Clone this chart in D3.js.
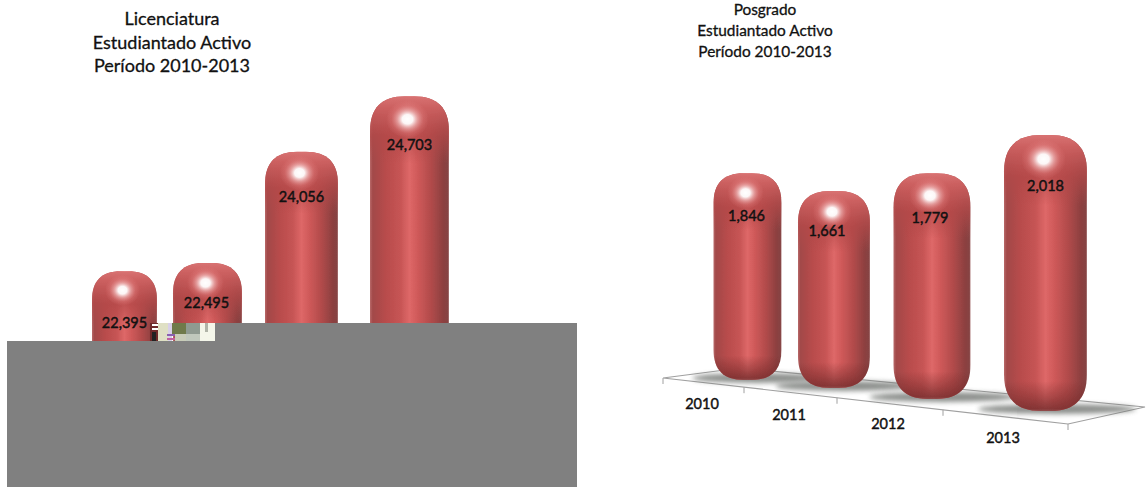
<!DOCTYPE html>
<html><head><meta charset="utf-8">
<script src="https://d3js.org/d3.v7.min.js"></script>
<style>html,body{margin:0;padding:0;background:#fff}svg{display:block}text{font-family:Lato,"Open Sans",sans-serif;fill:#111}</style>
</head><body><svg id="c" width="1146" height="487"></svg>
<script>
const years = ["2010","2011","2012","2013"];
const undergradValues = [22395,22495,24056,24703];
const postgradValues = [1846,1661,1779,2018];
const valueLabelFormat = d3.format(",");
const undergradTitle = ["Licenciatura","Estudiantado Activo","Período 2010-2013"];
const postgradTitle = ["Posgrado","Estudiantado Activo","Período 2010-2013"];

const svg = d3.select("#c");
const defs = svg.append("defs");

const hGrad = defs.append("linearGradient").attr("id","body");
[[0,"#b86a6a"],[.035,"#a24848"],[.2,"#b84c4c"],[.38,"#c65454"],[.5,"#de6868"],[.6,"#d05a5a"],[.78,"#b04a4a"],[.93,"#8c4040"],[.985,"#864444"],[1,"#b08080"]]
  .forEach(([o,c])=>hGrad.append("stop").attr("offset",o).attr("stop-color",c));
const capGrad = defs.append("linearGradient").attr("id","cap").attr("x1",0).attr("x2",0).attr("y1",0).attr("y2",1);
[[0,"#d87272",1],[.18,"#cc6060",.95],[.6,"#b24848",.7],[1,"#b04848",0]]
  .forEach(([o,c,a])=>capGrad.append("stop").attr("offset",o).attr("stop-color",c).attr("stop-opacity",a));
const footGrad = defs.append("linearGradient").attr("id","foot").attr("x1",0).attr("x2",0).attr("y1",0).attr("y2",1);
[[0,"#742a2a",0],[.55,"#742a2a",.45],[.92,"#7a3030",.85],[1,"#8a4a4a",.9]]
  .forEach(([o,c,a])=>footGrad.append("stop").attr("offset",o).attr("stop-color",c).attr("stop-opacity",a));
const glow = defs.append("radialGradient").attr("id","glow");
[[0,"#fff",1],[.25,"#fff",.95],[.48,"#f8c8c8",.6],[.75,"#ee9090",.25],[1,"#e88",0]]
  .forEach(([o,c,a])=>glow.append("stop").attr("offset",o).attr("stop-color",c).attr("stop-opacity",a));
defs.append("filter").attr("id","blur").attr("x","-30%").attr("width","160%").attr("y","-100%").attr("height","300%")
  .append("feGaussianBlur").attr("stdDeviation",2.5);
defs.append("filter").attr("id","soft").append("feGaussianBlur").attr("stdDeviation",.6);

// rounded "pill" outline with flattened shoulders, built from the bar's box
function pill(x0,y0,w,h,rx,ry){
  const k=.66, x1=x0+w, y1=y0+h;
  return `M${x0},${y0+ry}C${x0},${y0+ry*(1-k)} ${x0+rx*(1-k)},${y0} ${x0+rx},${y0}`+
    `L${x1-rx},${y0}C${x1-rx*(1-k)},${y0} ${x1},${y0+ry*(1-k)} ${x1},${y0+ry}`+
    `L${x1},${y1-ry}C${x1},${y1-ry*(1-k)} ${x1-rx*(1-k)},${y1} ${x1-rx},${y1}`+
    `L${x0+rx},${y1}C${x0+rx*(1-k)},${y1} ${x0},${y1-ry*(1-k)} ${x0},${y1-ry}Z`;
}

function drawPills(cfg){
  const {values, xs, ws, bases, y, dy, dx, shadow, g, round} = cfg;
  const x = d3.scaleOrdinal(years, xs), w = d3.scaleOrdinal(years, ws),
        base = d3.scaleOrdinal(years, bases), off = d3.scaleOrdinal(years, dy), lx = d3.scaleOrdinal(years, dx);
  const data = years.map((yr,i)=>({yr, v:values[i]}));
  const top = d => base(d.yr) - y(d.v)*w(d.yr);
  const H = d => y(d.v)*w(d.yr);
  if (shadow) g.selectAll(".sh").data(data).join("ellipse")
    .attr("cx",d=>x(d.yr)+w(d.yr)*.14).attr("cy",d=>base(d.yr)-2)
    .attr("rx",d=>w(d.yr)*.95).attr("ry",5).attr("fill","#6f736f").attr("opacity",.8).attr("filter","url(#blur)");
  const p = g.selectAll(".p").data(data).join("g").attr("filter","url(#soft)");
  const outline = d => pill(x(d.yr)-w(d.yr)/2, top(d), w(d.yr), H(d), w(d.yr)*round, w(d.yr)*round);
  p.append("path").attr("d",outline).attr("fill","url(#body)");
  const id = cfg.id;
  p.append("clipPath").attr("id",(d,i)=>id+i).append("path").attr("d",outline);
  p.append("rect").attr("clip-path",(d,i)=>`url(#${id+i})`)
    .attr("x",d=>x(d.yr)-w(d.yr)/2).attr("y",top).attr("width",d=>w(d.yr)).attr("height",d=>w(d.yr)*.85).attr("fill","url(#cap)");
  p.append("rect").attr("clip-path",(d,i)=>`url(#${id+i})`)
    .attr("x",d=>x(d.yr)-w(d.yr)/2).attr("y",d=>base(d.yr)-w(d.yr)*.36).attr("width",d=>w(d.yr)).attr("height",d=>w(d.yr)*.36).attr("fill","url(#foot)");
  p.append("ellipse").attr("cx",d=>x(d.yr)-2).attr("cy",d=>top(d)+w(d.yr)*.29)
    .attr("rx",d=>w(d.yr)*.27).attr("ry",d=>w(d.yr)*.24).attr("fill","url(#glow)");
  g.selectAll(".v").data(data).join("text")
    .attr("x",d=>x(d.yr)+lx(d.yr)).attr("y",d=>top(d)+off(d.yr)).attr("text-anchor","middle")
    .attr("font-size",14.5).attr("font-weight",400).attr("stroke","#111").attr("stroke-width",.45)
    .text(d=>valueLabelFormat(d.v));
}

function title(lines, cx, y0, lh, size){
  svg.append("g").selectAll("text").data(lines).join("text")
    .attr("x",cx).attr("y",(d,i)=>y0+i*lh).attr("text-anchor","middle").attr("font-size",size)
    .attr("stroke","#111").attr("stroke-width",.3).text(d=>d);
}

// Posgrado floor
const floor = svg.append("g");
const line = d3.line();
const floorFront = d3.scaleLinear([0,4],[663,1068]);
const floorFrontY = d3.scaleLinear([0,4],[378,424]);
const tickXs = d3.scaleOrdinal([0,1,2,3,4],[663,744,837,943,1068]);
const tickY = v => floorFrontY(floorFront.invert(tickXs(v)));
floor.append("path").attr("fill","none").attr("stroke","#a0a0a0").attr("stroke-width",1.2)
  .attr("d",line([[663,378],[740,368],[1145,407],[1068,424],[663,378]]));
floor.selectAll("line").data([0,1,2,3,4]).join("line")
  .attr("x1",tickXs).attr("x2",tickXs).attr("y1",tickY).attr("y2",d=>tickY(d)+6)
  .attr("stroke","#a0a0a0").attr("stroke-width",1);
const axisX = d3.scaleOrdinal(years,[702,789,888,1003]);
const axisY = d3.scaleOrdinal(years,[409,420,429,443]);
floor.selectAll("text").data(years).join("text").attr("x",axisX).attr("y",axisY)
  .attr("text-anchor","middle").attr("font-size",14.5).attr("stroke","#111").attr("stroke-width",.45).text(d=>d);

// Posgrado bars
drawPills({g:svg.append("g"), id:"pg", round:.44, values:postgradValues, shadow:true,
  xs:[747.5,834,932,1045.5], ws:[68,72,77,83], bases:[380,388,399,411],
  y:d3.scaleLinear([0,2018],[0,276/83]), dy:[48,45,50,56], dx:[-1,-7,-2,0]});

// Licenciatura bars
drawPills({g:svg.append("g"), id:"ug", round:.44, values:undergradValues, shadow:false,
  xs:[124.5,207.5,301.5,409.5], ws:[65,69,73,79], bases:[372,377,392,410],
  y:d3.scaleLinear([20919,24703],[0,3.97]), dy:[57,45,50,54], dx:[0,-1,0,0]});

title(undergradTitle,172,25,23.5,18);
title(postgradTitle,765,15,21,15.4);

// grey masking blocks and the noisy fragment beside them
const masks = svg.append("g");
const maskBlocks = [[7,341,570,146,"#808080"],[215,323,362,18,"#808080"]];
const noiseBlocks = [[150,323,8,18,"#6e2a2a"],[152,324,7,2,"#fff"],[152,328,7,2,"#fff"],[152,332,4,9,"#222"],
  [158,323,10,18,"#dfe0c4"],[168,323,4,18,"#d8d0e8"],[167,334,8,2,"#8a60b0"],[167,338,8,2,"#c060a0"],
  [172,323,14,11,"#6f7a4a"],[175,334,11,7,"#c8ccb8"],[186,323,14,11,"#8f9a90"],[186,334,14,7,"#c0c8bc"],
  [200,323,15,18,"#f4f6ea"],[205,323,3,9,"#b0b4a8"]];
masks.selectAll("rect").data(maskBlocks.concat(noiseBlocks)).join("rect")
  .attr("x",b=>b[0]).attr("y",b=>b[1]).attr("width",b=>b[2]).attr("height",b=>b[3]).attr("fill",b=>b[4]);
</script></body></html>
